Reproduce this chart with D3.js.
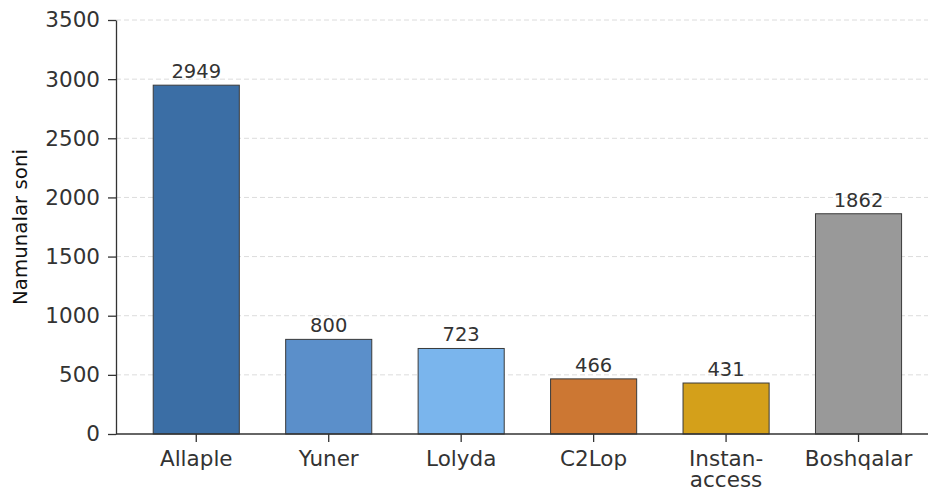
<!DOCTYPE html>
<html>
<head>
<meta charset="utf-8">
<script src="https://cdn.jsdelivr.net/npm/d3@7"></script>
<style>
  body { margin: 0; background: #fff; }
  svg { display: block; font-family: "DejaVu Sans", sans-serif; }
</style>
</head>
<body>
<div id="chart"></div>
<script>
// categories and counts
var categories = ['Allaple', 'Yuner', 'Lolyda', 'C2Lop', 'Instan-\naccess', 'Boshqalar'];
var counts = [2949, 800, 723, 466, 431, 1862];
var colors = ['#3b6ea5', '#5b8fca', '#7ab5ed', '#cc7733', '#d4a01a', '#999999'];
var yTicks = [0, 500, 1000, 1500, 2000, 2500, 3000, 3500];

var W = 928, H = 489;
var margin = { top: 20, right: 0, bottom: 55, left: 116 };
var width = W - margin.left - margin.right;
var height = H - margin.top - margin.bottom;

var svg = d3.select('#chart').append('svg')
  .attr('width', W)
  .attr('height', H)
  .append('g')
  .attr('transform', 'translate(' + margin.left + ',' + margin.top + ')');

// x as linear over index so the limits are like -0.6 .. 5.6
var x = d3.scaleLinear().domain([-0.606, 5.6]).range([0, 822]);
var barW = x(0.65) - x(0);
var y = d3.scaleLinear().domain([0, 3500]).range([height, 0]);

// grid
svg.append('g')
  .selectAll('line')
  .data(yTicks.slice(1))
  .enter().append('line')
  .attr('x1', 0).attr('x2', width)
  .attr('y1', function(d) { return y(d); })
  .attr('y2', function(d) { return y(d); })
  .attr('stroke', '#dcdcdc')
  .attr('stroke-dasharray', '5,3')
  .attr('stroke-width', 1);

// bars
svg.selectAll('rect.bar')
  .data(counts)
  .enter().append('rect')
  .attr('class', 'bar')
  .attr('x', function(d, i) { return x(i) - barW / 2; })
  .attr('y', function(d) { return y(d); })
  .attr('width', barW)
  .attr('height', function(d) { return height - y(d); })
  .attr('fill', function(d, i) { return colors[i]; })
  .attr('stroke', '#3a3a3a')
  .attr('stroke-width', 1);

// value labels
svg.selectAll('text.val')
  .data(counts)
  .enter().append('text')
  .attr('class', 'val')
  .attr('x', function(d, i) { return x(i); })
  .attr('y', function(d) { return y(d) - 7; })
  .attr('text-anchor', 'middle')
  .attr('font-size', 19.5)
  .attr('fill', '#333')
  .text(function(d) { return d; });

// y axis
var yAxis = svg.append('g')
  .call(d3.axisLeft(y).tickValues(yTicks).tickFormat(d3.format('d'))
    .tickSize(8).tickPadding(8).tickSizeOuter(0));
yAxis.select('.domain').attr('stroke', '#333').attr('stroke-width', 1.3);
yAxis.selectAll('.tick line').attr('stroke', '#333').attr('stroke-width', 1.3);
yAxis.selectAll('.tick text')
  .attr('font-size', 21.5)
  .attr('fill', '#333')
  .attr('font-family', '"DejaVu Sans", sans-serif');

// x axis
var xAxis = svg.append('g')
  .attr('transform', 'translate(0,' + height + ')');
xAxis.append('line')
  .attr('x1', 0).attr('x2', width)
  .attr('stroke', '#333').attr('stroke-width', 1.3);
var xt = xAxis.selectAll('g.xtick')
  .data(categories)
  .enter().append('g')
  .attr('transform', function(d, i) { return 'translate(' + x(i) + ',0)'; });
xt.append('line').attr('y2', 8).attr('stroke', '#333').attr('stroke-width', 1.3);
xt.append('text')
  .attr('text-anchor', 'middle')
  .attr('font-size', 21.5)
  .attr('fill', '#333')
  .each(function(d) {
    var t = d3.select(this);
    d.split('\n').forEach(function(line, k) {
      t.append('tspan').attr('x', 0).attr('y', 32 + k * 21).text(line);
    });
  });

// y label
svg.append('text')
  .attr('transform', 'translate(' + (-89) + ',' + (height / 2 - 0) + ') rotate(-90)')
  .attr('text-anchor', 'middle')
  .attr('font-size', 19.8)
  .attr('fill', '#111')
  .text('Namunalar soni');
</script>
</body>
</html>
